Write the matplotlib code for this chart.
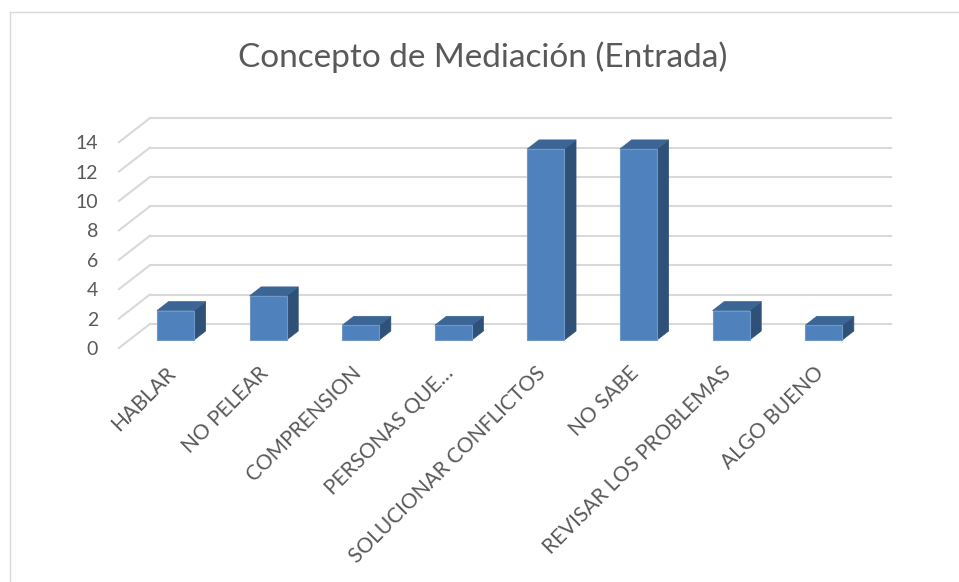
import matplotlib
matplotlib.use("Agg")
import matplotlib.pyplot as plt
from matplotlib.patches import Polygon

# datos
categorias = ["HABLAR", "NO PELEAR", "COMPRENSION", "PERSONAS QUE…",
              "SOLUCIONAR CONFLICTOS", "NO SABE", "REVISAR LOS PROBLEMAS", "ALGO BUENO"]
valores = [2, 3, 1, 1, 13, 13, 2, 1]
ticks_y = [0, 2, 4, 6, 8, 10, 12, 14]
titulo = "Concepto de Mediación (Entrada)"

plt.rcParams['font.family'] = ['Lato', 'DejaVu Sans']

W, H = 959, 582
fig = plt.figure(figsize=(W / 100, H / 100), dpi=100)
ax = fig.add_axes([0, 0, 1, 1])
ax.axis('off')

# escala: 1 categoria = 92.6 px, 1 unidad = 14.7 px
px_x, px_y = 92.6, 14.7
x0_px, y0_px = 175.5, 340
ax.set_xlim(-x0_px / px_x, (W - x0_px) / px_x)
ax.set_ylim((y0_px - H) / px_y, y0_px / px_y)


def prof(t):
    # desplazamiento de profundidad (t en px verticales)
    return 1.29 * t / px_x, t / px_y


grid_c = '#d9d9d9'
texto_c = '#595959'
n = len(categorias)

# pared del fondo y lineas de la izquierda
bx, by = prof(16)
fx, fy = prof(-8)
for v in ticks_y:
    ax.plot([-0.5 + bx, n - 0.5 + bx], [v + by, v + by], color=grid_c, lw=1.5, zorder=1)
    ax.plot([-0.5 + fx, -0.5 + bx], [v + fy, v + by], color=grid_c, lw=1.5, zorder=1)
    ax.text(-0.5 + fx - 0.225, v + fy - 0.1, str(v), ha='right', va='center',
            fontsize=14, color=texto_c)

# barras 3d
ancho = 0.40
dx, dy = prof(9)
ax.bar(range(n), valores, width=ancho, color='#4f81bd', edgecolor='#6f97c8',
       linewidth=0.8, zorder=3)
for i, v in enumerate(valores):
    l, r = i - ancho / 2, i + ancho / 2
    lado = Polygon([(r, 0), (r + dx, dy), (r + dx, v + dy), (r, v)],
                   closed=True, facecolor='#2f5178', edgecolor='#2f5178', lw=0.5, zorder=2)
    tapa = Polygon([(l, v), (l + dx, v + dy), (r + dx, v + dy), (r, v)],
                   closed=True, facecolor='#3b6594', edgecolor='#3b6594', lw=0.5, zorder=2)
    ax.add_patch(lado)
    ax.add_patch(tapa)

# etiquetas del eje x
for i, c in enumerate(categorias):
    ax.text(i - 0.11, -1.55, c, rotation=45, rotation_mode='anchor',
            ha='right', va='top', fontsize=15, color=texto_c)

fig.text(483 / W, 1 - 57 / H, titulo, ha='center', va='center', fontsize=24,
         color=texto_c)

# borde del grafico
ax.plot([-x0_px / px_x + 10 / px_x] * 2, [(y0_px - H) / px_y, (y0_px - 12) / px_y],
        color=grid_c, lw=1, clip_on=False)
ax.plot([-x0_px / px_x + 10 / px_x, (W - x0_px) / px_x], [(y0_px - 12) / px_y] * 2,
        color=grid_c, lw=1, clip_on=False)

fig.savefig('out.png', dpi=100)
